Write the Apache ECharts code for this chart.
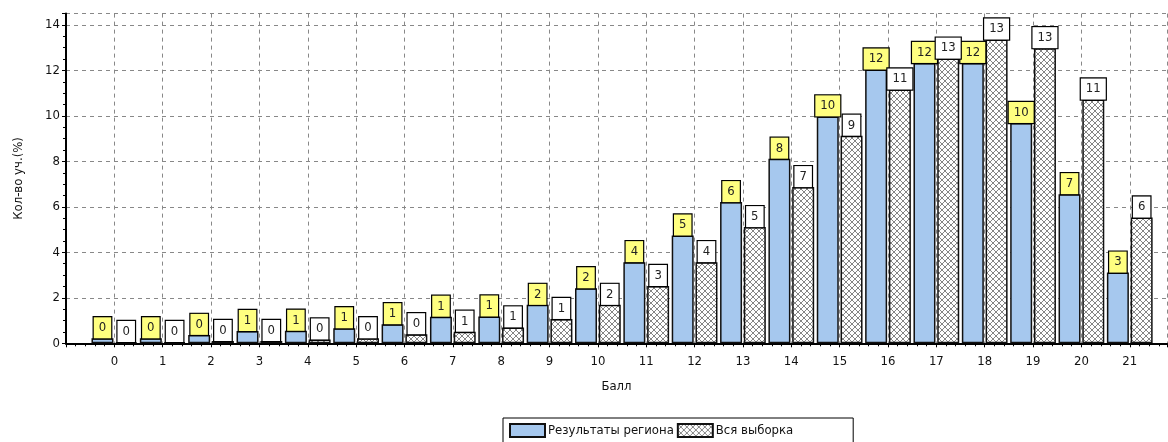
<!DOCTYPE html>
<html>
<head>
<meta charset="utf-8">
<script src="https://cdn.jsdelivr.net/npm/echarts@6/dist/echarts.min.js"></script>
<style>
html,body{margin:0;padding:0;background:#fff;}
#c{width:1168px;height:442px;}
</style>
</head>
<body>
<div id="c"></div>
<script>
var categories = [0,1,2,3,4,5,6,7,8,9,10,11,12,13,14,15,16,17,18,19,20,21];
var regionValues = [0.22,0.22,0.37,0.54,0.55,0.66,0.84,1.17,1.18,1.69,2.42,3.57,4.74,6.21,8.12,9.98,12.04,12.33,12.33,9.69,6.56,3.11];
var allValues = [0.05,0.05,0.1,0.1,0.17,0.22,0.4,0.51,0.7,1.07,1.69,2.52,3.57,5.11,6.87,9.13,11.16,12.52,13.36,12.98,10.72,5.53];
var yTicks = [0,2,4,6,8,10,12,14];
var seriesNames = ['Результаты региона','Вся выборка'];
var axisNames = {x:'Балл', y:'Кол-во уч.(%)'};

var FONT = '"Liberation Sans Narrow","DejaVu Sans Condensed","Liberation Sans",Arial,sans-serif';

// crosshatch pattern
var pc = document.createElement('canvas');
pc.width = 6; pc.height = 6;
var g = pc.getContext('2d');
g.fillStyle = '#fff'; g.fillRect(0,0,6,6);
g.strokeStyle = '#777'; g.lineWidth = 0.9;
g.beginPath();
g.moveTo(0,0); g.lineTo(6,6);
g.moveTo(6,0); g.lineTo(0,6);
g.stroke();

function pairs(vals){ return categories.map(function(c,i){ return [c, vals[i]]; }); }

function lbl(bg){
  return {
    show:true, position:'top', distance:0,
    formatter:function(p){ return String(Math.round(p.value[1])); },
    backgroundColor:bg, borderColor:'#000', borderWidth:1.2,
    padding:[4,5,4,5], fontFamily:FONT, fontSize:13, lineHeight:13, color:'#222'
  };
}

var chart = echarts.init(document.getElementById('c'), null, {renderer:'canvas'});
chart.setOption({
  animation:false,
  grid:{left:66, right:1, top:13.6, bottom:98.7, containLabel:false},
  legend:{
    top:418, left:503, itemWidth:35, itemHeight:13, itemGap:3,
    padding:[5,60,8,6], borderColor:'#000', borderWidth:1,
    icon:'rect',
    textStyle:{fontFamily:FONT, fontSize:13, color:'#111', padding:[0,0,0,-2]},
    data:seriesNames
  },
  xAxis:{
    type:'value', min:-1, max:21.77, interval:1,
    name:axisNames.x, nameLocation:'middle', nameGap:37,
    nameTextStyle:{fontFamily:FONT, fontSize:13, color:'#111'},
    axisLine:{show:true, onZero:false, lineStyle:{color:'#000', width:2}},
    axisTick:{show:true, length:4, lineStyle:{color:'#000'}},
    minorTick:{show:true, splitNumber:5, length:3, lineStyle:{color:'#000'}},
    axisLabel:{margin:12, fontFamily:FONT, fontSize:13, color:'#111',
      formatter:function(v){ return categories.indexOf(v) >= 0 ? String(v) : ''; },
      showMaxLabel:false},
    splitLine:{show:true, lineStyle:{color:'#888', type:[4,4], width:1}}
  },
  yAxis:{
    type:'value', min:0, max:14.5, interval:2,
    name:axisNames.y, nameLocation:'middle', nameGap:41, nameRotate:90,
    nameTextStyle:{fontFamily:FONT, fontSize:13, color:'#111'},
    axisLine:{show:true, onZero:false, lineStyle:{color:'#000', width:2}},
    axisTick:{show:true, length:4, lineStyle:{color:'#000'}},
    minorTick:{show:true, splitNumber:4, length:3, lineStyle:{color:'#000'}},
    axisLabel:{margin:6, fontFamily:FONT, fontSize:13, color:'#111',
      formatter:function(v){ return yTicks.indexOf(v) >= 0 ? String(v) : ''; }},
    splitLine:{show:true, lineStyle:{color:'#888', type:[4,4], width:1}}
  },
  series:[
    {
      name:seriesNames[0], type:'bar', barWidth:22, barGap:'8%',
      data:pairs(regionValues),
      itemStyle:{color:'#a6c8ee', borderColor:'#111', borderWidth:1.5},
      label:lbl('#ffff80')
    },
    {
      name:seriesNames[1], type:'bar', barWidth:22, barGap:'8%',
      data:pairs(allValues),
      itemStyle:{color:{image:pc, repeat:'repeat'}, borderColor:'#111', borderWidth:1.5},
      label:lbl('#ffffff')
    }
  ]
});
</script>
</body>
</html>
